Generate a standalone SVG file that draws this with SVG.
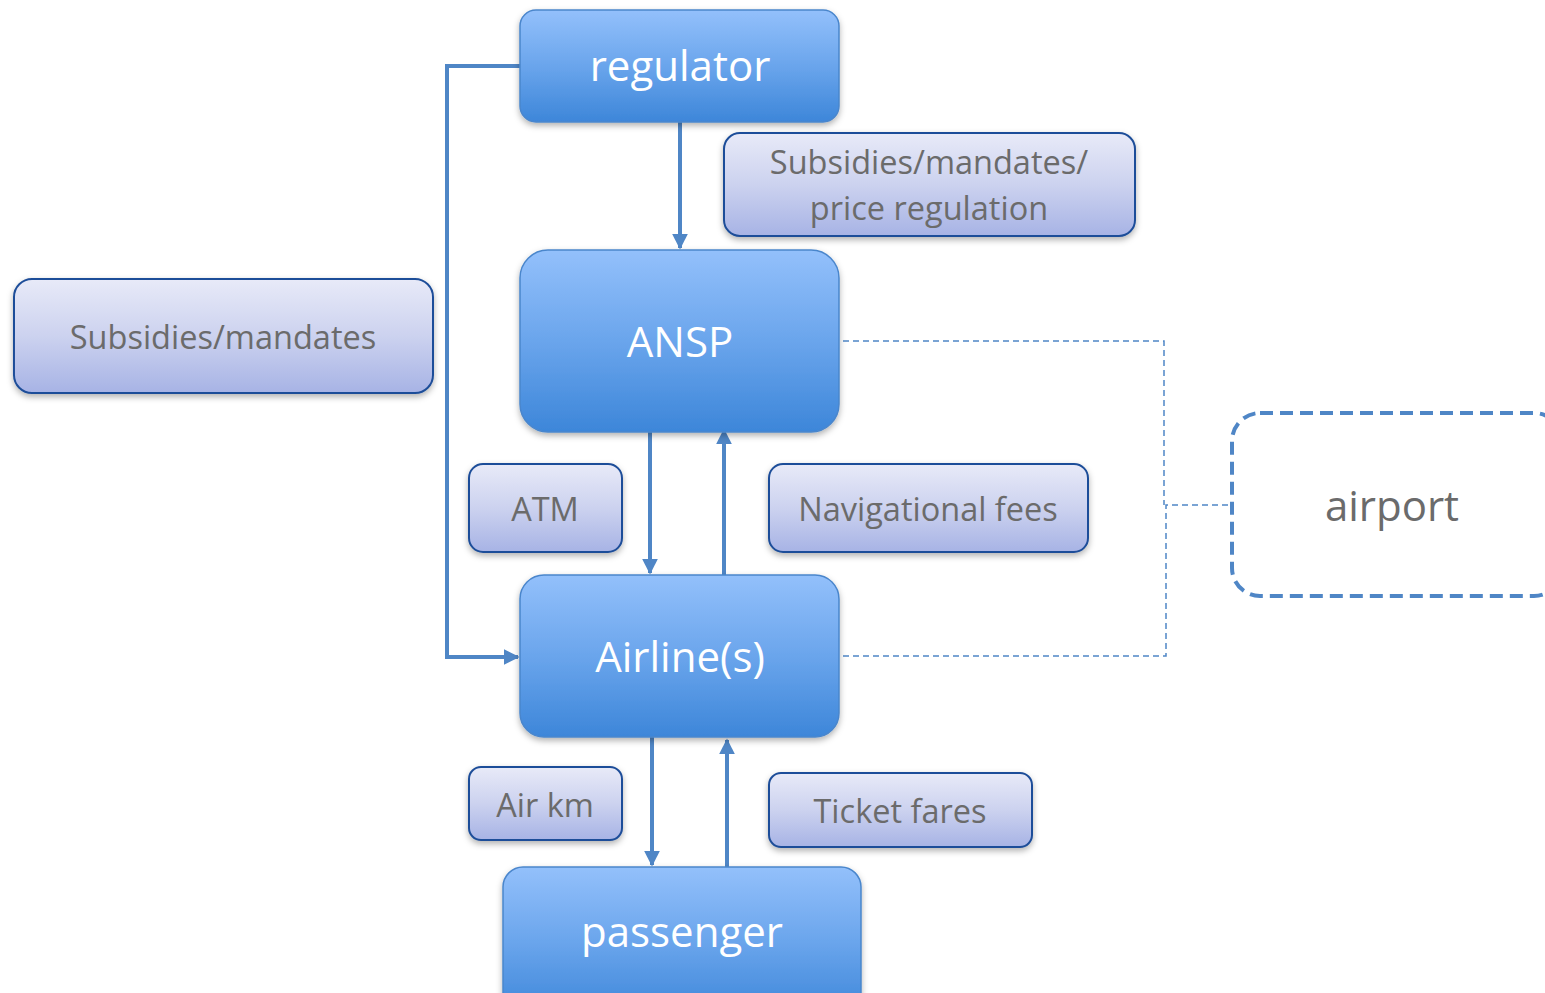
<svg xmlns="http://www.w3.org/2000/svg" width="1545" height="993" viewBox="0 0 1545 993">
  <defs>
    <linearGradient id="gNode" x1="0" y1="0" x2="0" y2="1">
      <stop offset="0" stop-color="#93c0fb"/>
      <stop offset="0.5" stop-color="#6aa5ec"/>
      <stop offset="1" stop-color="#3d86d9"/>
    </linearGradient>
    <linearGradient id="gLabel" x1="0" y1="0" x2="0" y2="1">
      <stop offset="0" stop-color="#e8eaf8"/>
      <stop offset="0.5" stop-color="#ccd2ef"/>
      <stop offset="1" stop-color="#a7b3e5"/>
    </linearGradient>
    <filter id="shadow" x="-10%" y="-10%" width="120%" height="130%">
      <feDropShadow dx="0" dy="3" stdDeviation="3" flood-color="#000" flood-opacity="0.3"/>
    </filter>
    <marker id="arrow" viewBox="0 0 10 10" refX="9" refY="5" markerWidth="4" markerHeight="4" orient="auto" markerUnits="strokeWidth">
      <path d="M0,0 L10,5 L0,10 z" fill="#4f86c6"/>
    </marker>
  </defs>
  <style>
    .node rect { fill: url(#gNode); stroke: #4a86cc; stroke-width: 1.5; filter: url(#shadow); }
    .node text { fill: #ffffff; font-family: "Open Sans", "Noto Sans", sans-serif; font-size: 42px; text-anchor: middle; }
    .label rect { fill: url(#gLabel); stroke: #1f4e99; stroke-width: 2; filter: url(#shadow); }
    .label text { fill: #6b6b6b; font-family: "Open Sans", "Noto Sans", sans-serif; font-size: 32.5px; text-anchor: middle; }
    .flow { fill: none; stroke: #4f86c6; stroke-width: 4; marker-end: url(#arrow); }
    .link { fill: none; stroke: #4f86c6; stroke-width: 1.5; stroke-dasharray: 6 4; }
  </style>

  <rect width="1545" height="993" fill="#ffffff"/>

  <!-- connectors -->
  <g id="connectors">
    <path class="flow" d="M520,66 H447 V657 H518"/>
    <path class="flow" d="M680,122 V248"/>
    <path class="flow" d="M650,432 V573"/>
    <path class="flow" d="M724,575 V430"/>
    <path class="flow" d="M652,737 V865"/>
    <path class="flow" d="M727,867 V740"/>
    <path class="link" d="M843,341 H1164 V505"/>
    <path class="link" d="M843,656 H1166 V505 H1232"/>
  </g>

  <!-- main actors -->
  <g id="regulator" class="node">
    <rect x="520" y="10" width="319" height="112" rx="16"/>
    <text x="680" y="81">regulator</text>
  </g>
  <g id="ansp" class="node">
    <rect x="520" y="250" width="319" height="182" rx="28"/>
    <text x="680" y="357">ANSP</text>
  </g>
  <g id="airlines" class="node">
    <rect x="520" y="575" width="319" height="162" rx="24"/>
    <text x="680" y="672">Airline(s)</text>
  </g>
  <g id="passenger" class="node">
    <rect x="503" y="867" width="358" height="150" rx="20"/>
    <text x="682" y="947">passenger</text>
  </g>

  <!-- flow labels -->
  <g id="lbl-regulation" class="label">
    <rect x="724" y="133" width="411" height="103" rx="16"/>
    <text x="929" y="174">Subsidies/mandates/</text>
    <text x="929" y="220">price regulation</text>
  </g>
  <g id="lbl-subsidies" class="label">
    <rect x="14" y="279" width="419" height="114" rx="18"/>
    <text x="223" y="349">Subsidies/mandates</text>
  </g>
  <g id="lbl-atm" class="label">
    <rect x="469" y="464" width="153" height="88" rx="14"/>
    <text x="545" y="521">ATM</text>
  </g>
  <g id="lbl-navfees" class="label">
    <rect x="769" y="464" width="319" height="88" rx="14"/>
    <text x="928" y="521">Navigational fees</text>
  </g>
  <g id="lbl-airkm" class="label">
    <rect x="469" y="767" width="153" height="73" rx="12"/>
    <text x="545" y="817">Air km</text>
  </g>
  <g id="lbl-fares" class="label">
    <rect x="769" y="773" width="263" height="74" rx="12"/>
    <text x="900" y="823">Ticket fares</text>
  </g>

  <!-- airport -->
  <g id="airport">
    <rect x="1232" y="413" width="330" height="183" rx="28" fill="none" stroke="#4f86c6" stroke-width="4" stroke-dasharray="13 7"/>
    <text x="1392" y="521" fill="#6b6b6b" font-family="Open Sans, Noto Sans, sans-serif" font-size="42" text-anchor="middle">airport</text>
  </g>
</svg>
